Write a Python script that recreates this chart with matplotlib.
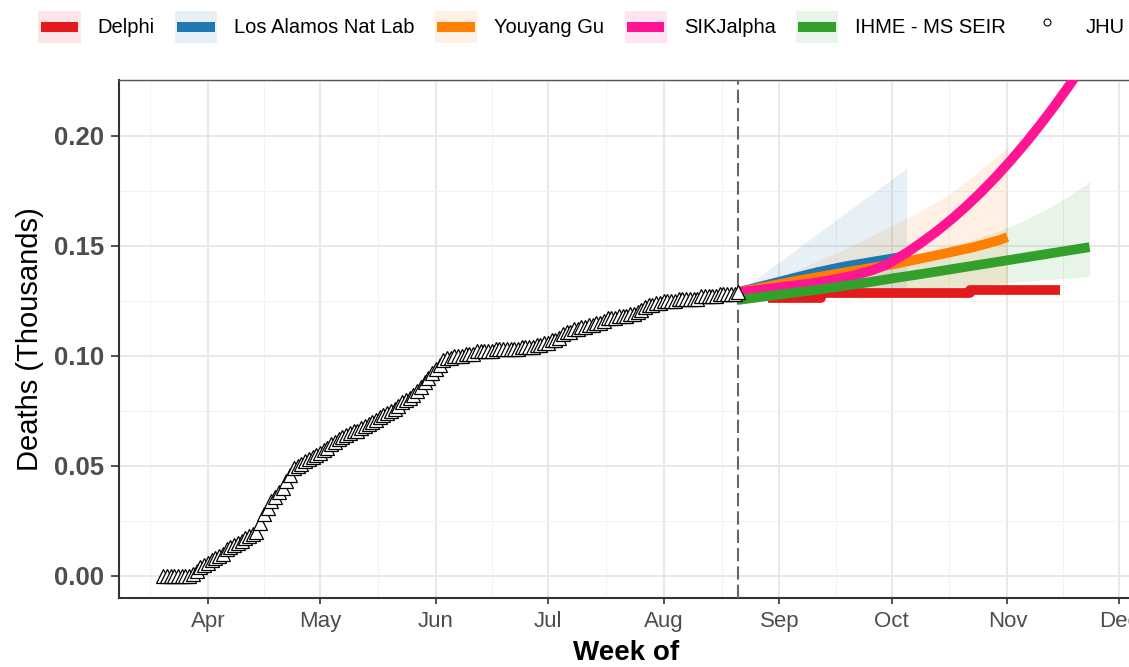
import matplotlib
matplotlib.use('Agg')
import matplotlib.pyplot as plt
import matplotlib.dates as mdates
from matplotlib.lines import Line2D
from matplotlib.patches import Rectangle
from matplotlib.legend_handler import HandlerBase
import pandas as pd

plt.rcParams['font.family'] = ['Liberation Sans', 'DejaVu Sans']

# ---------------- data ----------------
jhu_start = '2020-03-20'
jhu_end = '2020-08-21'
jhu_values = [
    # Mar 20-31
    0.000, 0.000, 0.000, 0.000, 0.000, 0.000, 0.000, 0.000, 0.001, 0.002, 0.004, 0.005,
    # Apr
    0.006, 0.007, 0.008, 0.009, 0.010, 0.012, 0.013, 0.014, 0.015, 0.016,
    0.017, 0.018, 0.019, 0.020, 0.024, 0.028, 0.031, 0.034, 0.036, 0.038,
    0.040, 0.043, 0.046, 0.049, 0.050, 0.051, 0.052, 0.053, 0.054, 0.055,
    # May
    0.056, 0.057, 0.058, 0.060, 0.061, 0.062, 0.063, 0.064, 0.065, 0.066,
    0.066, 0.067, 0.068, 0.069, 0.070, 0.071, 0.072, 0.073, 0.074, 0.075,
    0.076, 0.077, 0.079, 0.080, 0.081, 0.082, 0.084, 0.086, 0.088, 0.090, 0.092,
    # Jun
    0.094, 0.096, 0.098, 0.099, 0.099, 0.100, 0.100, 0.100, 0.101, 0.101,
    0.101, 0.102, 0.102, 0.102, 0.102, 0.102, 0.103, 0.103, 0.103, 0.103,
    0.103, 0.103, 0.103, 0.104, 0.104, 0.104, 0.104, 0.105, 0.105, 0.106,
    # Jul
    0.106, 0.107, 0.107, 0.108, 0.110, 0.111, 0.111, 0.112, 0.112, 0.113,
    0.113, 0.114, 0.114, 0.115, 0.115, 0.116, 0.117, 0.117, 0.117, 0.118,
    0.118, 0.118, 0.119, 0.119, 0.120, 0.121, 0.122, 0.123, 0.123, 0.124, 0.124,
    # Aug 1-21
    0.125, 0.125, 0.125, 0.125, 0.126, 0.126, 0.126, 0.126, 0.126, 0.126,
    0.127, 0.127, 0.127, 0.127, 0.127, 0.128, 0.128, 0.128, 0.128, 0.128, 0.129,
]
forecast_date = '2020-08-21'

delphi_dates = ['2020-08-29', '2020-09-12', '2020-10-22', '2020-11-15']
delphi_values = [0.1262, 0.1285, 0.1299, 0.1299]

lanl_dates = ['2020-08-21', '2020-08-28', '2020-09-04', '2020-09-11', '2020-09-18',
              '2020-09-25', '2020-10-02', '2020-10-05']
lanl_values = [0.1290, 0.1320, 0.1350, 0.1380, 0.1405, 0.1425, 0.1445, 0.1455]
lanl_upper = [0.1290, 0.1378, 0.1465, 0.1553, 0.1641, 0.1728, 0.1816, 0.1853]
lanl_lower = [0.1280, 0.1284, 0.1289, 0.1293, 0.1298, 0.1302, 0.1307, 0.1310]

yyg_dates = ['2020-08-21', '2020-08-28', '2020-09-04', '2020-09-11', '2020-09-18', '2020-09-25',
             '2020-10-02', '2020-10-09', '2020-10-16', '2020-10-23', '2020-10-30', '2020-11-01']
yyg_values = [0.1290, 0.1313, 0.1336, 0.1357, 0.1378, 0.1398, 0.1418, 0.1443, 0.1468, 0.1494, 0.1527, 0.1540]
yyg_upper = [0.1300, 0.1340, 0.1380, 0.1430, 0.1480, 0.1540, 0.1600, 0.1660, 0.1730, 0.1820, 0.1920, 0.1950]
yyg_lower = [0.1280, 0.1283, 0.1286, 0.1289, 0.1292, 0.1295, 0.1298, 0.1301, 0.1304, 0.1308, 0.1312, 0.1314]

sik_dates = ['2020-08-21', '2020-08-25', '2020-08-29', '2020-09-02', '2020-09-06', '2020-09-10',
             '2020-09-14', '2020-09-18', '2020-09-22', '2020-09-26', '2020-09-30', '2020-10-05',
             '2020-10-09', '2020-10-13', '2020-10-17', '2020-10-21', '2020-10-25', '2020-10-29',
             '2020-11-02', '2020-11-06', '2020-11-10', '2020-11-14', '2020-11-18', '2020-11-22']
sik_values = [0.1290, 0.1297, 0.1305, 0.1314, 0.1322, 0.1331, 0.1342, 0.1355, 0.1370, 0.1390,
              0.1417, 0.1468, 0.1515, 0.1565, 0.1620, 0.1680, 0.1745, 0.1815, 0.1890, 0.1970,
              0.2055, 0.2145, 0.2240, 0.2340]

ihme_dates = ['2020-08-21', '2020-08-28', '2020-09-04', '2020-09-11', '2020-09-18', '2020-09-25',
              '2020-10-02', '2020-10-09', '2020-10-16', '2020-10-23', '2020-10-30', '2020-11-06',
              '2020-11-13', '2020-11-20', '2020-11-23']
ihme_values = [0.1254, 0.1270, 0.1285, 0.1300, 0.1317, 0.1335, 0.1354, 0.1372, 0.1391, 0.1410,
               0.1429, 0.1448, 0.1467, 0.1486, 0.1494]
ihme_upper = [0.1255, 0.1280, 0.1310, 0.1340, 0.1370, 0.1400, 0.1430, 0.1460, 0.1495, 0.1530,
              0.1570, 0.1620, 0.1680, 0.1755, 0.1792]
ihme_lower = [0.1240, 0.1249, 0.1258, 0.1267, 0.1276, 0.1285, 0.1294, 0.1303, 0.1312, 0.1321,
              0.1330, 0.1339, 0.1348, 0.1357, 0.1363]

model_names = ['Delphi', 'Los Alamos Nat Lab', 'Youyang Gu', 'SIKJalpha', 'IHME - MS SEIR', 'JHU']
model_colors = ['#E41A1C', '#1F78B4', '#FF7F00', '#FF1493', '#33A02C']

y_ticks = [0.00, 0.05, 0.10, 0.15, 0.20]
month_ticks = ['2020-04-01', '2020-05-01', '2020-06-01', '2020-07-01', '2020-08-01',
               '2020-09-01', '2020-10-01', '2020-11-01', '2020-12-01']
month_labels = ['Apr', 'May', 'Jun', 'Jul', 'Aug', 'Sep', 'Oct', 'Nov', 'Dec']

# ---------------- figure ----------------
W, H = 1129, 667
fig = plt.figure(figsize=(W / 100, H / 100), dpi=100)
ax = fig.add_axes([119 / W, (H - 598) / H, (1140 - 119) / W, (598 - 80) / H])

d = lambda s: pd.to_datetime(s)
base = mdates.date2num(d('2020-04-01'))
ax.set_xlim(base - 23.8, base + 249.5)
ax.set_ylim(-0.0101, 0.2254)

ALPHA = 0.11
ax.fill_between(d(lanl_dates), lanl_lower, lanl_upper, color=model_colors[1], alpha=ALPHA, lw=0, zorder=2)
ax.fill_between(d(yyg_dates), yyg_lower, yyg_upper, color=model_colors[2], alpha=ALPHA, lw=0, zorder=2)
ax.fill_between(d(ihme_dates), ihme_lower, ihme_upper, color=model_colors[4], alpha=ALPHA, lw=0, zorder=2)

LW = 7
ax.plot(d(delphi_dates), delphi_values, color=model_colors[0], lw=LW, solid_capstyle='butt',
        drawstyle='steps-post', zorder=3)
ax.plot(d(lanl_dates), lanl_values, color=model_colors[1], lw=LW, solid_capstyle='butt', zorder=3.1)
ax.plot(d(yyg_dates), yyg_values, color=model_colors[2], lw=LW, solid_capstyle='butt', zorder=3.2)
ax.plot(d(sik_dates), sik_values, color=model_colors[3], lw=LW, solid_capstyle='butt', zorder=3.3)
ax.plot(d(ihme_dates), ihme_values, color=model_colors[4], lw=LW, solid_capstyle='butt', zorder=3.4)

ax.axvline(d(forecast_date), color='#666666', lw=1.5, ls=(0, (6.4, 2.4)), zorder=4)

jhu_dates = pd.date_range(jhu_start, jhu_end, freq='D')
ax.plot(jhu_dates, jhu_values, ls='none', marker='^', ms=9.5, mfc='white', mec='black',
        mew=0.9, zorder=5)

ax.set_yticks(y_ticks)
ax.set_yticklabels(['%.2f' % v for v in y_ticks])
ax.set_xticks(d(month_ticks))
ax.set_xticklabels(month_labels)
month_nums = mdates.date2num(d(['2020-03-01'] + month_ticks))
ax.set_xticks([(a + b) / 2 for a, b in zip(month_nums[:-1], month_nums[1:])], minor=True)
ax.set_yticks([0.025, 0.075, 0.125, 0.175, 0.225], minor=True)
ax.grid(which='major', color='#E8E8E8', lw=1.4)
ax.grid(which='minor', color='#F2F2F2', lw=0.7)
ax.set_axisbelow(True)

ax.tick_params(axis='x', which='major', length=4.5, width=1.2, color='#333333',
               labelsize=16, labelcolor='#4D4D4D', pad=5)
ax.tick_params(axis='y', which='major', length=5.5, width=1.2, color='#333333',
               labelsize=18.5, labelcolor='#4D4D4D', pad=5)
ax.tick_params(which='minor', length=0)
for lbl in ax.get_yticklabels():
    lbl.set_fontweight('bold')

for side in ['left', 'bottom']:
    ax.spines[side].set_color('#333333')
    ax.spines[side].set_linewidth(1.5)
ax.spines['top'].set_color('#555555')
ax.spines['top'].set_linewidth(1.0)
ax.spines['right'].set_visible(False)

fig.text(30 / W, 1 - 339 / H, 'Deaths (Thousands)', rotation=90, ha='center', va='center',
         fontsize=21, color='black')
fig.text(626 / W, 1 - 653 / H, 'Week of', ha='center', va='center', fontsize=20,
         fontweight='bold', color='black')


class KeyHandler(HandlerBase):
    def create_artists(self, legend, orig_handle, xdescent, ydescent, width, height,
                       fontsize, trans):
        c = orig_handle.get_color()
        rect = Rectangle((-xdescent, -ydescent), width, height, facecolor=c, alpha=ALPHA,
                         edgecolor='none', transform=trans)
        inset = width * 0.06
        y = -ydescent + height / 2
        line = Line2D([-xdescent + inset, -xdescent + width - inset], [y, y], color=c,
                      lw=7.2, solid_capstyle='butt', transform=trans)
        return [rect, line]


handles = [Line2D([], [], color=c) for c in model_colors]
hmap = {h: KeyHandler() for h in handles}
handles.append(Line2D([], [], ls='none', marker='o', ms=5, mfc='white', mec='black', mew=0.8))
fig.legend(handles, model_names, loc='center', bbox_to_anchor=(0.515, 1 - 27 / H), ncol=6,
           frameon=False, fontsize=14.5, handlelength=2.1, handleheight=2.1,
           handletextpad=0.85, columnspacing=1.0, borderpad=0, handler_map=hmap)

fig.savefig('out.png', dpi=100)
